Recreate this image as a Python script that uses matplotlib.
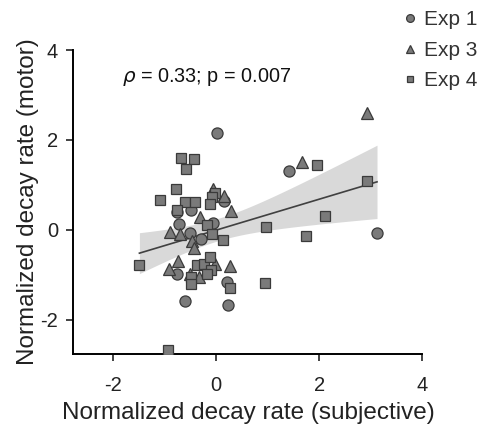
import numpy as np
import matplotlib
matplotlib.use("Agg")
import matplotlib.pyplot as plt

plt.rcParams['font.family'] = ['Liberation Sans', 'DejaVu Sans']
plt.rcParams['axes.unicode_minus'] = False

# Exp 1 (circles)
exp1_x = [0.03, 1.42, 3.12, -0.48, -0.76, -0.71, 0.15, -0.05, -0.50, -0.28,
          -0.75, 0.22, -0.59, 0.23]
exp1_y = [2.16, 1.32, -0.07, 0.45, 0.39, 0.14, 0.65, 0.16, -0.07, -0.21,
          -0.98, -1.15, -1.58, -1.68]

# Exp 3 (triangles)
exp3_x = [2.93, 1.66, -0.05, 0.16, 0.30, -0.30, -0.89, -0.70, -0.47, -0.43,
          -0.74, -0.90, -0.02, 0.27, -0.50, -0.33]
exp3_y = [2.59, 1.50, 0.90, 0.76, 0.41, 0.28, -0.05, -0.10, -0.24, -0.41,
          -0.70, -0.86, -0.75, -0.81, -0.99, -1.05]

# Exp 4 (squares)
exp4_x = [-0.67, -0.43, -0.58, -0.77, -1.08, -0.60, -0.40, -0.01, -0.08, -0.11,
          -0.76, -0.18, -0.08, 0.13, -1.48, -0.36, -0.22, -0.11, -0.09, -0.18,
          -0.49, -0.49, 0.27, -0.93, 2.93, 1.95, 2.12, 0.97, 1.74, 0.95]
exp4_y = [1.59, 1.58, 1.36, 0.91, 0.67, 0.61, 0.61, 0.82, 0.74, 0.58,
          0.45, 0.11, -0.10, -0.22, -0.79, -0.78, -0.76, -0.60, -0.89, -0.99,
          -1.05, -1.20, -1.30, -2.67, 1.09, 1.44, 0.30, 0.07, -0.13, -1.17]

stat_text = r"$\rho$ = 0.33; p = 0.007"
t_crit = 2.0  # ~95% two sided, n ~ 60

fig = plt.figure(figsize=(4.79, 4.24), dpi=100)
ax = fig.add_axes([0.153, 0.165, 0.729, 0.717])

# regression with confidence band
x = np.array(exp1_x + exp3_x + exp4_x)
y = np.array(exp1_y + exp3_y + exp4_y)
m, b = np.polyfit(x, y, 1)
n = len(x)
resid = y - (m * x + b)
s = np.sqrt(np.sum(resid ** 2) / (n - 2))
xm = x.mean()
sxx = np.sum((x - xm) ** 2)
xs = np.linspace(x.min(), x.max(), 100)
ys = m * xs + b
half = t_crit * s * np.sqrt(1.0 / n + (xs - xm) ** 2 / sxx)
ax.fill_between(xs, ys - half, ys + half, color="#d9d9d9", lw=0, zorder=1)
ax.plot(xs, ys, color="#404040", lw=1.2, zorder=2)

face = "#7a7a7a"
edge = "#3a3a3a"
ax.plot(exp1_x, exp1_y, "o", ms=8, mfc=face, mec=edge, mew=0.9, label="Exp 1", zorder=3)
ax.plot(exp3_x, exp3_y, "^", ms=8.5, mfc=face, mec=edge, mew=0.9, label="Exp 3", zorder=3)
ax.plot(exp4_x, exp4_y, "s", ms=6.8, mfc=face, mec=edge, mew=0.9, label="Exp 4", zorder=3)

ax.set_xlim(-2.76, 4)
ax.set_ylim(-2.76, 4)
ax.set_xticks([-2, 0, 2, 4])
ax.set_yticks([-2, 0, 2, 4])
for sp in ["top", "right"]:
    ax.spines[sp].set_visible(False)
for sp in ["left", "bottom"]:
    ax.spines[sp].set_linewidth(1.4)
ax.tick_params(direction="out", length=5, width=1.2, labelsize=14.5, colors="#222222")
ax.tick_params(axis="x", pad=11)
ax.tick_params(axis="y", pad=6)
ax.set_xlabel("Normalized decay rate (subjective)", fontsize=17.5, color="#222222", labelpad=5)
ax.set_ylabel("Normalized decay rate (motor)", fontsize=17.5, color="#222222", labelpad=1)

ax.text(0.139, 0.912, stat_text, transform=ax.transAxes, fontsize=14.3,
        va="center", ha="left", color="#111111")

fig.legend(loc="upper left", bbox_to_anchor=(0.822, 0.995), frameon=False,
           fontsize=15, markerscale=0.7, handlelength=0.8, handletextpad=0.26,
           labelspacing=0.55, borderaxespad=0, labelcolor="#333333")

fig.savefig("out.png", dpi=100)
